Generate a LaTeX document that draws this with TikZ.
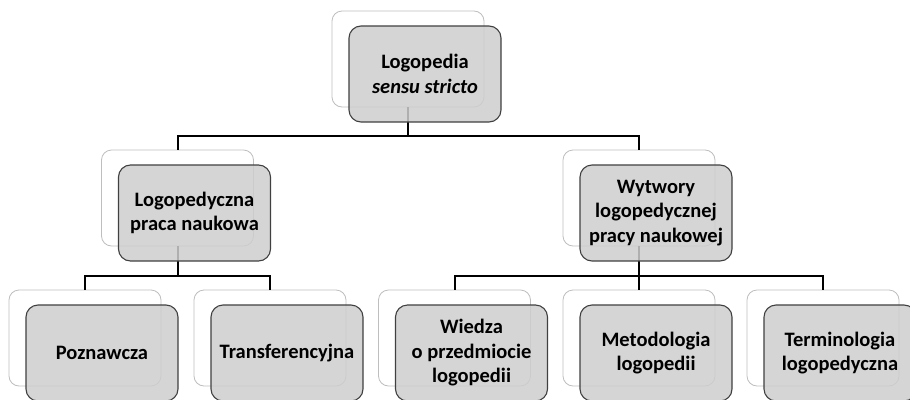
\documentclass[tikz,border=0pt]{standalone}
\usepackage{fontspec}
\setmainfont{Carlito}
\begin{document}
\begin{tikzpicture}[x=1pt,y=-1pt,
  backbox/.style={draw={rgb,255:red,190;green,190;blue,190}, line width=0.8pt,
    fill=white, rounded corners=10pt, minimum width=152pt, minimum height=96pt,
    inner sep=0pt},
  frontbox/.style={draw={rgb,255:red,64;green,64;blue,64}, line width=1.1pt,
    fill={rgb,255:red,206;green,206;blue,206}, fill opacity=0.85, text opacity=1,
    rounded corners=12pt, minimum width=152pt, minimum height=96pt,
    inner sep=0pt, align=center, font=\fontsize{20.5}{24.5}\selectfont\bfseries,
    text=black},
  link/.style={draw=black, line width=2pt}]
\useasboundingbox (0,0) rectangle (910,399);
\clip (0,0) rectangle (910,399);

% bus lines between levels
\coordinate (busA) at (0,135.5);
\coordinate (busB) at (0,275.5);

% back frames
\node[backbox] (b0) at (408,59) {};
\node[backbox] (b1) at (177.5,198) {};
\node[backbox] (b2) at (639,198) {};
\node[backbox] (b3) at (85,338) {};
\node[backbox] (b4) at (270,338) {};
\node[backbox] (b5) at (454.5,338) {};
\node[backbox] (b6) at (639,338) {};
\node[backbox] (b7) at (823,338) {};

% connectors
\draw[link] (b0.south) -- (b0.south |- busA);
\draw[link] (b1.north) -- (b1.north |- busA) -- (b2.north |- busA) -- (b2.north);
\draw[link] (b1.south) -- (b1.south |- busB);
\draw[link] (b3.north) -- (b3.north |- busB) -- (b4.north |- busB) -- (b4.north);
\draw[link] (b2.south) -- (b2.south |- busB);
\draw[link] (b5.north) -- (b5.north |- busB) -- (b7.north |- busB) -- (b7.north);
\draw[link] (b6.north) -- (b6.north |- busB);

% front boxes with labels
\node[frontbox] (f0) at ([shift={(17,15)}]b0.center) {Logopedia\\\textit{sensu stricto}};
\node[frontbox] (f1) at ([shift={(17,15)}]b1.center) {Logopedyczna\\praca naukowa};
\node[frontbox] (f2) at ([shift={(17,15)}]b2.center) {Wytwory\\logopedycznej\\pracy naukowej};
\node[frontbox] (f3) at ([shift={(17,15)}]b3.center) {Poznawcza};
\node[frontbox] (f4) at ([shift={(17,15)}]b4.center) {Transferencyjna};
\node[frontbox] (f5) at ([shift={(17,15)}]b5.center) {Wiedza\\o przedmiocie\\logopedii};
\node[frontbox] (f6) at ([shift={(17,15)}]b6.center) {Metodologia\\logopedii};
\node[frontbox] (f7) at ([shift={(17,15)}]b7.center) {Terminologia\\logopedyczna};
\end{tikzpicture}
\end{document}
